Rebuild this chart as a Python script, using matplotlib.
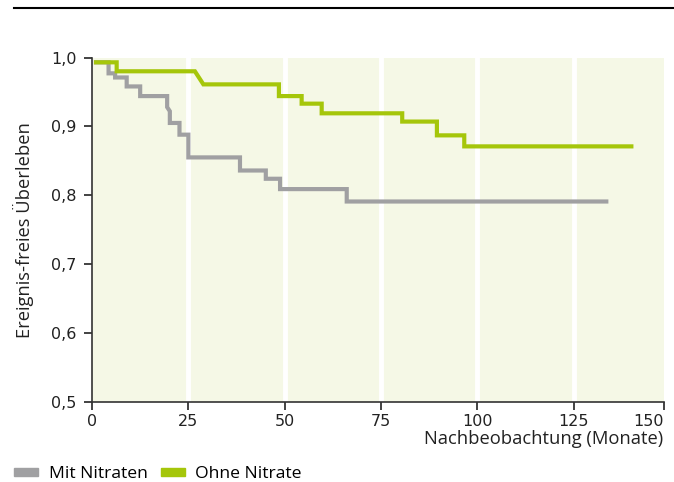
import numpy as np
import matplotlib
matplotlib.use("Agg")
import matplotlib.pyplot as plt
from matplotlib.lines import Line2D
from matplotlib.patches import Patch

# Kaplan-Meier curves (months, event-free survival)
mit_months = [0.5, 4.3, 4.3, 6.0, 6.0, 9.0, 9.0, 12.5, 12.5, 19.5, 19.5, 20.2,
              20.2, 22.7, 22.7, 25.0, 25.0, 38.4, 38.4, 45.1, 45.1, 48.8,
              48.8, 66.1, 66.1, 134.0]
mit_surv = [0.993, 0.993, 0.977, 0.977, 0.971, 0.971, 0.958, 0.958, 0.944,
            0.944, 0.928, 0.922, 0.905, 0.905, 0.888, 0.888, 0.855, 0.855,
            0.836, 0.836, 0.824, 0.824, 0.809, 0.809, 0.791, 0.791]

ohne_months = [0.5, 6.4, 6.4, 26.7, 28.9, 48.5, 48.5, 54.4, 54.4, 59.6, 59.6,
               80.5, 80.5, 89.5, 89.5, 96.6, 96.6, 140.5]
ohne_surv = [0.993, 0.993, 0.980, 0.980, 0.961, 0.961, 0.944, 0.944, 0.933,
             0.933, 0.919, 0.919, 0.907, 0.907, 0.887, 0.887, 0.871, 0.871]

x_ticks = [0, 25, 50, 75, 100, 125, 150]
y_ticks = [0.5, 0.6, 0.7, 0.8, 0.9, 1.0]
y_ticklabels = ["0,5", "0,6", "0,7", "0,8", "0,9", "1,0"]

GREEN = "#a5c60a"
GREY = "#a0a0a2"
BG = "#f5f8e6"
INK = "#222222"
X_MAX = 148.3  # axis stops short of the last tick; that tick is pinned to the edge

fig = plt.figure(figsize=(6.74, 4.82), dpi=100)
ax = fig.add_axes([92 / 674, 1 - 402 / 482, (663.5 - 92) / 674, (402 - 57.5) / 482])
ax.set_facecolor(BG)

for x in x_ticks[1:-1]:
    ax.axvline(x, color="white", lw=3.5, zorder=1)

ax.plot(mit_months, mit_surv, color=GREY, lw=3.0, solid_capstyle="butt",
        solid_joinstyle="miter", zorder=3)
ax.plot(ohne_months, ohne_surv, color=GREEN, lw=3.0, solid_capstyle="butt",
        solid_joinstyle="miter", zorder=4)

ax.set_xlim(0, X_MAX)
ax.set_ylim(0.5, 1.0)
ax.set_xticks([min(t, X_MAX) for t in x_ticks])
ax.set_xticklabels([str(t) for t in x_ticks])
ax.get_xticklabels()[-1].set_horizontalalignment("right")
ax.set_yticks(y_ticks)
ax.set_yticklabels(y_ticklabels)
ax.tick_params(direction="out", length=6, width=1.2, color=INK,
               labelsize=11.5, labelcolor=INK)
ax.tick_params(axis="y", pad=5)
ax.tick_params(axis="x", pad=3)
for s in ["top", "right"]:
    ax.spines[s].set_visible(False)
for s in ["left", "bottom"]:
    ax.spines[s].set_linewidth(1.2)
    ax.spines[s].set_color("#333333")

lab = dict(family="Open Sans", fontsize=13.2, color=INK)
ax.set_ylabel("Ereignis-freies Überleben", labelpad=12.5, **lab)
ax.set_xlabel("Nachbeobachtung (Monate)", loc="right", labelpad=0, **lab)

# rule across the top of the figure
fig.add_artist(Line2D([14 / 674, 1.0], [1 - 8 / 482, 1 - 8 / 482],
                      color="black", lw=1.5))

handles = [Patch(color=GREY, label="Mit Nitraten"),
           Patch(color=GREEN, label="Ohne Nitrate")]
fig.legend(handles=handles, loc="lower left", bbox_to_anchor=(-0.002, -0.033),
           ncol=2, frameon=False, handlelength=1.37, handleheight=0.36,
           handletextpad=0.6, columnspacing=0.75,
           prop=dict(family="Open Sans", size=12.6))

fig.savefig("out.png", dpi=100)
